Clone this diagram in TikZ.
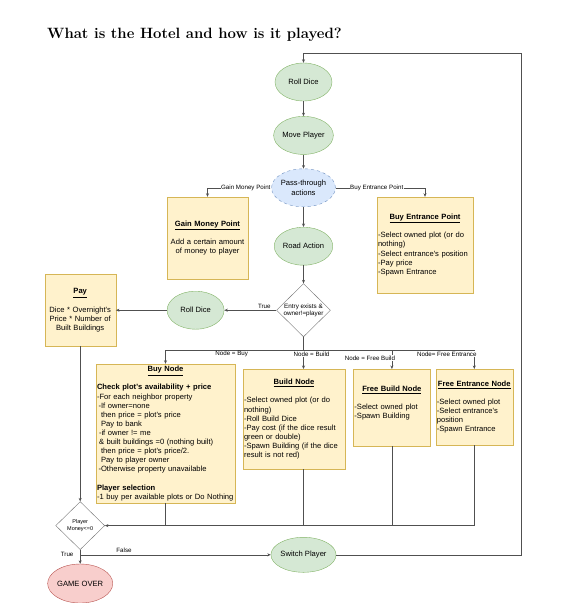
\documentclass[tikz,border=0pt]{standalone}
\usepackage{fontspec}
\newfontfamily\dio{Liberation Sans}
\usepackage{xcolor}
\definecolor{greenfill}{HTML}{D5E8D4}
\definecolor{greenline}{HTML}{82B366}
\definecolor{bluefill}{HTML}{DAE8FC}
\definecolor{blueline}{HTML}{6C8EBF}
\definecolor{yellowfill}{HTML}{FFF2CC}
\definecolor{yellowline}{HTML}{D6B656}
\definecolor{redfill}{HTML}{F8CECC}
\definecolor{redline}{HTML}{B85450}
\definecolor{wirecol}{HTML}{505050}
\usetikzlibrary{arrows.meta, positioning, shapes}
\newcommand{\boxhead}[1]{\hspace*{\fill}\underline{\textbf{#1}}\hspace*{\fill}\mbox{}}
\tikzset{
    state/.style={
        ellipse, draw=greenline, fill=greenfill,
        inner sep=0pt,
        minimum width=57pt,
        minimum height=38pt,
        align=center,
        font=\dio\fontsize{7.6}{9.1}\selectfont
    },
    passthrough/.style={
        state,
        draw=blueline, fill=bluefill, dashed
    },
    endstate/.style={
        state,
        draw=redline, fill=redfill
    },
    note/.style={
        rectangle, draw=yellowline, fill=yellowfill,
        inner xsep=1pt, inner ysep=0pt,
        font=\dio\fontsize{7.6}{9.1}\selectfont
    },
    choice/.style={
        diamond, draw=black!55, fill=white,
        inner sep=0pt, align=center,
        font=\dio\fontsize{6.3}{7.6}\selectfont
    },
    wire/.style={
        draw=wirecol, line width=0.6pt
    },
    conn/.style={
        wire,
        -{Stealth[length=3.5pt, width=3pt]},
    },
    lbl/.style={fill=white, inner sep=0.5pt,
        font=\dio\fontsize{6.2}{7}\selectfont},
}

\begin{document}
\begin{tikzpicture}
        \useasboundingbox (0,0) rectangle (577pt,-603pt);
        \node[anchor=base west, inner sep=0pt, font=\fontsize{14.9}{18}\selectfont\bfseries] (title) at (47pt,-38pt) {What is the Hotel and how is it played?};

        \node[state] (roll) at (303.5pt,-82pt) {Roll Dice};
        \node[state, below=15pt of roll] (move) {Move Player};
        \node[passthrough, below=14pt of move] (pass) {Pass-through\\actions};
        \node[state, below=20pt of pass] (road) {Road Action};
        \node[choice, minimum width=54pt, minimum height=52pt, below=18pt of road] (entry) {Entry exists \&\\owner!=player};
        \node[state, left=52pt of entry] (rollb) {Roll Dice};
        \node[note, align=center, text width=69pt, minimum height=72pt, left=51pt of rollb] (pay)
            {\boxhead{Pay}\\[9.1pt] Dice * Overnight's\\Price * Number of\\Built Buildings};

        \node[note, align=center, text width=79pt, minimum height=82pt] (gain) at (207.5pt,-238pt)
            {\boxhead{Gain Money Point}\\[9.1pt] Add a certain amount\\of money to player};
        \node[note, align=left, text width=94pt, minimum height=96pt] (entr) at (425pt,-245pt)
            {\boxhead{Buy Entrance Point}\\[9.1pt]
             -Select owned plot (or do\\nothing)\\-Select entrance's position\\-Pay price\\-Spawn Entrance};

        \node[note, align=left, text width=137pt, minimum height=139pt] (buy) at (165.5pt,-433.5pt)
            {\boxhead{Buy Node}\\[9.1pt]
             \textbf{Check plot's availability + price}\\
             -For each neighbor property\\
             \hspace*{1.5pt}-If owner=none\\
             \hspace*{4pt}then price = plot's price\\
             \hspace*{4pt}Pay to bank\\
             \hspace*{2pt}-if owner != me\\
             \hspace*{2pt}\& built buildings =0 (nothing built)\\
             \hspace*{4pt}then price = plot's price/2.\\
             \hspace*{4pt}Pay to player owner\\
             \hspace*{1.5pt}-Otherwise property unavailable\\[9.1pt]
             \textbf{Player selection}\\
             -1 buy per available plots or Do Nothing};
        \node[note, align=left, text width=100pt, minimum height=100pt, anchor=north] (build) at (294pt,-369pt)
            {\boxhead{Build Node}\\[9.1pt]
             -Select owned plot (or do\\nothing)\\-Roll Build Dice\\-Pay cost (if the dice result\\green or double)\\-Spawn Building (if the dice\\result is not red)};
        \node[note, align=left, text width=75pt, minimum height=77pt, right=8pt of build.north east, anchor=north west] (fbuild)
            {\boxhead{Free Build Node}\\[9.1pt]
             -Select owned plot\\-Spawn Building\\[2pt]\mbox{}};
        \node[note, align=left, text width=75pt, minimum height=76pt, right=5pt of fbuild.north east, anchor=north west] (fentr)
            {\boxhead{Free Entrance Node}\\[9.1pt]
             -Select owned plot\\-Select entrance's\\position\\-Spawn Entrance};

        \node[choice, minimum width=49pt, minimum height=48pt, font=\dio\fontsize{5.5}{7.8}\selectfont, below=155pt of pay] (money) {Player\\Money<=0};
        \node[endstate, minimum height=39pt, below=14pt of money] (over) {GAME OVER};
        \coordinate[below=5pt of money.south] (fork);
        \node[state, minimum height=35pt] (switch) at (roll |- fork) {Switch Player};

        \coordinate[below=13pt of entry.south] (split);
        \coordinate (back) at (521pt,-53pt);

        % main column
        \foreach \i/\j in {roll/move, move/pass, pass/road, road/entry, rollb/pay, pay/money}
            \draw[conn] (\i)--(\j);

        \draw[conn] (pass) -| node[lbl, pos=0.2]{Gain Money Point} (gain);
        \draw[conn] (pass) -| node[lbl, pos=0.23]{Buy Entrance Point} (entr);
        \draw[conn] (entry) -- node[lbl, above=1pt, pos=0.23]{True} (rollb);

        % node type branches
        \draw[wire] (entry) -- (split);
        \draw[conn] (split) -| node[lbl, below=0.5pt, pos=0.26]{Node = Buy} (buy);
        \draw[conn] (split) -- node[lbl, xshift=8pt, pos=0.22]{Node = Build} (split |- build.north);
        \draw[conn] (split) -| node[lbl, pos=0.5, xshift=-22pt, yshift=-8pt]{Node = Free Build} (fbuild);
        \draw[conn] (split) -| node[lbl, pos=0.5, xshift=-27.5pt, yshift=-4pt]{Node= Free Entrance} (fentr);

        % back to the money check
        \foreach \i in {buy, fbuild, fentr}
            \draw[wire] (\i) -- (\i |- money);
        \draw[wire] (split |- build.south) -- (split |- money);
        \draw[conn] (fentr |- money) -- (money);

        \draw[conn] (money) -- node[lbl, left=6pt, pos=0.36]{True} (over);
        \draw[conn] (fork) -- node[lbl, above=1pt, pos=0.23]{False} (switch);
        \draw[conn] (switch) -| (back) -| (roll);
\end{tikzpicture}
\end{document}
